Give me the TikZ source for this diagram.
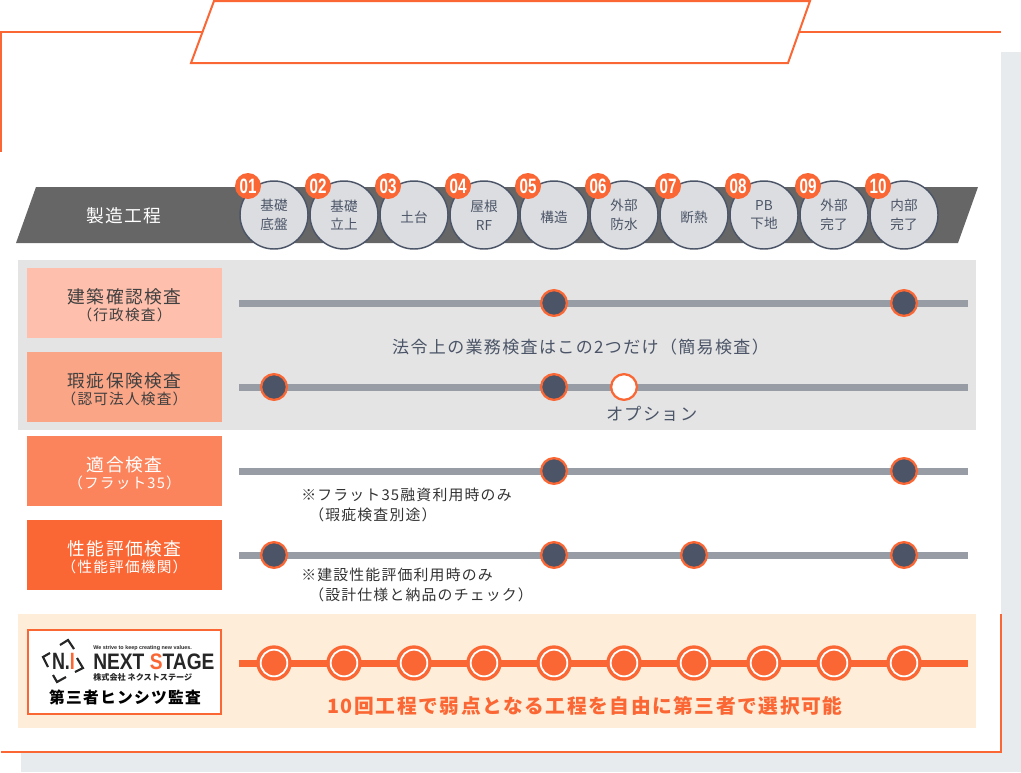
\documentclass[tikz,border=0pt]{standalone}
\usepackage{fontspec}
\setmainfont{Liberation Sans}
\newfontfamily\jpfont[LetterSpace=8]{Noto Sans CJK JP}
\newfontfamily\jptight{Noto Sans CJK JP}
\definecolor{accent}{HTML}{FB6734}
\definecolor{slate}{HTML}{4B5567}
\definecolor{railgray}{HTML}{979CA5}
\definecolor{stepfill}{HTML}{DCDDE1}
\definecolor{shadow}{HTML}{E8EBEE}
\definecolor{panelgray}{HTML}{E4E4E5}
\definecolor{panelcream}{HTML}{FEEED9}
\definecolor{boxa}{HTML}{FEBFAC}
\definecolor{boxb}{HTML}{FAA586}
\definecolor{boxc}{HTML}{FC845C}
\newcommand{\lbl}[2]{\rule{0pt}{15pt}#1\\[-2pt]{\fontsize{11}{11}\selectfont #2}}
\newcommand{\numb}[1]{\scalebox{.73}[1]{#1}}
\tikzset{
  px/.style={x=0.75pt,y=-0.75pt},
  jp/.style={inner sep=0pt,font=\jpfont\fontsize{#1}{#1}\selectfont},
  jp/.default=10.5,
  stepc/.style={circle,draw=slate,line width=1.1pt,fill=stepfill,minimum size=51pt,inner sep=0pt,align=center,text=slate,font=\jptight\fontsize{10.2}{14}\selectfont,execute at begin node={\rule{0pt}{11.5pt}}},
  badge/.style={circle,fill=accent,minimum size=19.5pt,inner sep=0pt,text=white,font=\fontsize{15.6}{15.6}\selectfont\bfseries},
  labelbox/.style={minimum width=146.25pt,minimum height=52.5pt,inner sep=0pt,align=center,font=\jpfont\fontsize{13.3}{14.5}\selectfont},
  rail/.style={line width=5.25pt,railgray},
  dot/.style={circle,draw=accent,line width=1.7pt,fill=slate,minimum size=19.3pt,inner sep=0pt},
  opt/.style={circle,draw=accent,line width=1.7pt,fill=white,minimum size=19.3pt,inner sep=0pt},
  hit/.style={circle,fill=accent,draw=white,line width=1.35pt,minimum size=20pt,inner sep=0pt,outer sep=0pt},
  hitring/.style={circle,fill=accent,minimum size=26.5pt,inner sep=0pt},
  note/.style={jp=11.15,text=black!80,anchor=west},
  framel/.style={line width=1.5pt,accent},
  bracket/.style={line width=1.6pt,black!85},
}
\begin{document}
\begin{tikzpicture}[px]
\useasboundingbox (0,0) rectangle (1021,772);
% shadow
\fill[shadow] (1001,52) rectangle (1021,772);
\fill[shadow] (21,752) rectangle (1021,772);
% frame
\coordinate (fa) at (1,152);
\coordinate (fb) at (1,32);
\coordinate (fc) at (204,32);
\coordinate (fd) at (799,32);
\coordinate (fe) at (1001,32);
\coordinate (ff) at (1001,614);
\coordinate (fg) at (1001,752);
\coordinate (fh) at (1,752);
\draw[framel] (fa) -- (fb) -- (fc);
\draw[framel] (fd) -- (fe);
\draw[framel] (ff) -- (fg) -- (fh);
\draw[framel,fill=white] (214,1) -- (810,1) -- (788,63) -- (191,63) -- cycle;
% band
\fill[black!60] (36,187) -- (978,187) -- (958,243) -- (16,243) -- cycle;
\node[jp=13.3,text=white] (seizo) at (124,216) {製造工程};
\node[stepc] (c1) at (274,215) {基礎\\底盤};
\node[stepc] (c2) at (344,215) {基礎\\立上};
\node[stepc] (c3) at (414,215) {土台};
\node[stepc] (c4) at (484,215) {屋根\\RF};
\node[stepc] (c5) at (554,215) {構造};
\node[stepc] (c6) at (624,215) {外部\\防水};
\node[stepc] (c7) at (694,215) {断熱};
\node[stepc] (c8) at (764,215) {PB\\下地};
\node[stepc] (c9) at (834,215) {外部\\完了};
\node[stepc] (c10) at (904,215) {内部\\完了};
\node[badge] (b1) at (248,186) {\numb{01}};
\node[badge] (b2) at (318,186) {\numb{02}};
\node[badge] (b3) at (388,186) {\numb{03}};
\node[badge] (b4) at (458,186) {\numb{04}};
\node[badge] (b5) at (528,186) {\numb{05}};
\node[badge] (b6) at (598,186) {\numb{06}};
\node[badge] (b7) at (668,186) {\numb{07}};
\node[badge] (b8) at (738,186) {\numb{08}};
\node[badge] (b9) at (808,186) {\numb{09}};
\node[badge] (b10) at (878,186) {\numb{10}};
% panels
\fill[panelgray] (18,260) rectangle (976,430);
\fill[panelcream] (18,614) rectangle (976,728);
% labels
\node[labelbox,fill=boxa,text=black!75] (ka) at (124.5,303) {\lbl{建築確認検査}{（行政検査）}};
\node[labelbox,fill=boxb,text=black!75] (kb) at (124.5,387) {\lbl{瑕疵保険検査}{（認可法人検査）}};
\node[labelbox,fill=boxc,text=white] (kc) at (124.5,471) {\lbl{適合検査}{（フラット35）}};
\node[labelbox,fill=accent,text=white] (kd) at (124.5,555) {\lbl{性能評価検査}{（性能評価機関）}};
% rails
\coordinate (la) at (239,303);
\coordinate (ra) at (968,303);
\coordinate (lb) at (239,387);
\coordinate (rb) at (968,387);
\coordinate (lc) at (239,471);
\coordinate (rc) at (968,471);
\coordinate (ld) at (239,555);
\coordinate (rd) at (968,555);
\coordinate (le) at (239,663);
\coordinate (re) at (968,663);
\draw[rail] (la) -- (ra);
\draw[rail] (lb) -- (rb);
\draw[rail] (lc) -- (rc);
\draw[rail] (ld) -- (rd);
\draw[line width=5.25pt,accent] (le) -- (re);
\node[dot] (a5) at (554,303) {};
\node[dot] (a10) at (904,303) {};
\node[dot] (d1) at (274,387) {};
\node[dot] (d5) at (554,387) {};
\node[opt] (d6) at (624,387) {};
\node[dot] (e5) at (554,471) {};
\node[dot] (e10) at (904,471) {};
\node[dot] (g1) at (274,555) {};
\node[dot] (g5) at (554,555) {};
\node[dot] (g7) at (694,555) {};
\node[dot] (g10) at (904,555) {};
% notes
\node[jp=12.75,text=slate] (law) at (580.5,347) {法令上の業務検査はこの2つだけ（簡易検査）};
\node[jp=12.9,text=slate] (option) at (652,414) {オプション};
\node[note] (na) at (301,495) {※フラット35融資利用時のみ};
\node[note] (nb) at (309,514.5) {（瑕疵検査別途）};
\node[note] (nc) at (301,575) {※建設性能評価利用時のみ};
\node[note] (nd) at (309,595) {（設計仕様と納品のチェック）};
% third party row
\node[hitring] (h1r) at (274,663) {};
\node[hitring] (h2r) at (344,663) {};
\node[hitring] (h3r) at (414,663) {};
\node[hitring] (h4r) at (484,663) {};
\node[hitring] (h5r) at (554,663) {};
\node[hitring] (h6r) at (624,663) {};
\node[hitring] (h7r) at (694,663) {};
\node[hitring] (h8r) at (764,663) {};
\node[hitring] (h9r) at (834,663) {};
\node[hitring] (h10r) at (904,663) {};
\node[hit] (h1) at (274,663) {};
\node[hit] (h2) at (344,663) {};
\node[hit] (h3) at (414,663) {};
\node[hit] (h4) at (484,663) {};
\node[hit] (h5) at (554,663) {};
\node[hit] (h6) at (624,663) {};
\node[hit] (h7) at (694,663) {};
\node[hit] (h8) at (764,663) {};
\node[hit] (h9) at (834,663) {};
\node[hit] (h10) at (904,663) {};
\node[inner sep=0pt,text=accent,font=\jpfont\bfseries\fontsize{14.8}{15}\selectfont] (free) at (585,706) {10回工程で弱点となる工程を自由に第三者で選択可能};
% logo
\draw[framel,fill=white] (27.5,630) rectangle (221,714);
\node[inner sep=0pt,anchor=west,font=\bfseries\fontsize{4.05}{5}\selectfont,text=black!85] (motto) at (93,648) {We strive to keep creating new values.};
\node[inner sep=0pt,anchor=west,font=\bfseries\fontsize{16}{16}\selectfont,text=black!85] (brand) at (93,661.5) {\scalebox{.9}[1.05]{NEXT \textcolor{accent}{S}TAGE}};
\node[inner sep=0pt,anchor=west,font=\jptight\bfseries\fontsize{6.1}{7}\selectfont,text=black!85] (corp) at (93,677) {株式会社 ネクストステージ};
\node[inner sep=0pt,font=\jpfont\bfseries\fontsize{11.8}{12}\selectfont,text=black] (third) at (125,697) {第三者ヒンシツ監査};
\node[inner sep=0pt,font=\bfseries\fontsize{17.7}{17.7}\selectfont,text=black!85] (ni) at (63.5,661.5) {\scalebox{.76}[1]{N.\textcolor{accent}{I}}};
\draw[bracket] (50,653) -- (43,657) -- (48,667);
\draw[bracket] (60,645) -- (68,640) -- (74,649);
\draw[bracket] (53,675) -- (57,682) -- (66,677);
\draw[bracket] (77,658) -- (83,668) -- (75,672);
\end{tikzpicture}
\end{document}
